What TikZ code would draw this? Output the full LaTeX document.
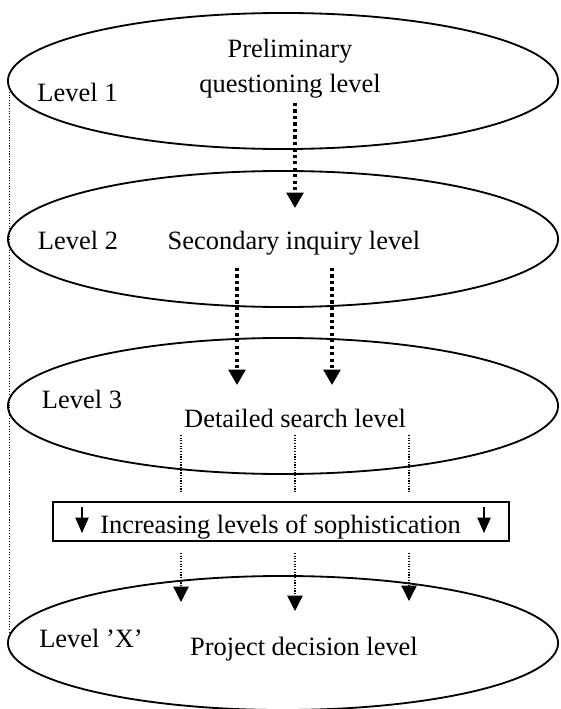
\documentclass[tikz,border=0pt]{standalone}
\usepackage{fontspec}
\setmainfont{Liberation Serif}
\usetikzlibrary{shapes.geometric,arrows.meta}
\tikzset{
	lvl/.style={draw,ellipse,line width=1.3pt,minimum width=13.75cm,minimum height=3.4cm,inner sep=0pt},
	sbox/.style={draw,line width=1.1pt,minimum width=11.4cm,minimum height=.975cm,inner sep=0pt},
	lab/.style={anchor=base,align=center},
	thickdot/.style={line width=2.3pt,dash pattern=on 2.3pt off 2.3pt,-{Triangle[width=12pt,length=11pt]}},
	thindot/.style={line width=.9pt,dash pattern=on .8pt off 1.1pt},
	thinarr/.style={thindot,-{Triangle[width=11pt,length=11pt]}},
	boxarr/.style={line width=.9pt,-{Triangle[width=9.5pt,length=11pt]}}
}
\begin{document}
\begin{tikzpicture}[x=.025cm,y=-.025cm,every node/.style={font=\fontsize{18.8}{25}\selectfont}]
		\useasboundingbox(0,0)rectangle(560,709);
		\coordinate(A1)at(295,103);
		\coordinate(A2)at(237,268);
		\coordinate(A3)at(332,268);
		\coordinate(D1)at(181,435);
		\coordinate(D2)at(295,435);
		\coordinate(D3)at(409,435);
		\coordinate(E1)at(181,602);
		\coordinate(E2)at(295,611);
		\coordinate(E3)at(409,601);
		\coordinate(G1)at(9.5,92);
		\coordinate(G2)at(9.5,633);
		\coordinate(H1)at(82,507);
		\coordinate(H2)at(484,507);
		%levels
		\node[lvl](L1)at(283,81){};
		\node[lvl](L2)at(283,239){};
		\node[lvl](L3)at(283,406){};
		\node[lvl,minimum height=3.35cm](LX)at(283,643){};
		\node[sbox](S)at(281,521.5){};
		\draw[thindot](G1)--(G2);
		\draw[thickdot](A1)--(A1|-0,208);
		\foreach\p in{A2,A3}{\draw[thickdot](\p)--(\p|-0,385);}
		\foreach\p in{D1,D2,D3}{\draw[thindot](\p)--(\p|-0,492);}
		\foreach\p in{E1,E2,E3}{\draw[thinarr](\p|-0,553)--(\p);}
		\foreach\p in{H1,H2}{\draw[boxarr](\p)--(\p|-0,533);}
		\node[lab]at(290,93){Preliminary\\questioning level};
		\node[lab]at(77.5,102){Level 1};
		\node[lab]at(78,249){Level 2};
		\node[lab]at(294,249){Secondary inquiry level};
		\node[lab]at(82,408){Level 3};
		\node[lab]at(295,427){Detailed search level};
		\node[lab]at(280.5,533){Increasing levels of sophistication};
		\node[lab]at(91,647){Level ’X’};
		\node[lab]at(304,655){Project decision level};
	\end{tikzpicture}
\end{document}
